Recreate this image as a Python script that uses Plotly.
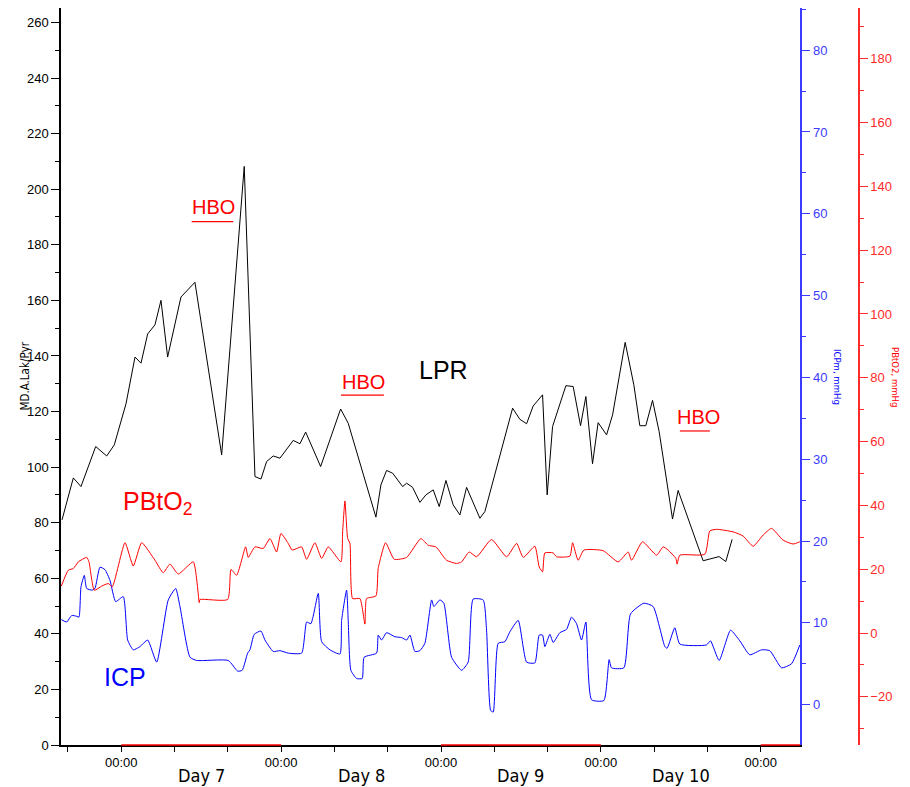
import plotly.graph_objects as go

# ---------------- data (time in hours from Day 7 00:00) ----------------
lpr_t = [-8.90, -7.20, -6.05, -3.84, -2.19, -1.05, 0.71, 2.06, 2.96, 3.96, 5.06, 5.96,
         6.96, 8.96, 11.06, 15.07, 18.46, 20.07, 20.97, 21.82, 22.81, 23.82, 25.82, 26.82,
         27.68, 29.93, 32.93, 34.07, 38.23, 38.98, 39.83, 40.74, 42.24, 42.84, 43.74, 44.83,
         45.73, 46.83, 47.73, 48.74, 49.83, 50.84, 51.84, 53.84, 54.59, 58.75, 59.84, 60.85,
         61.84, 63.25, 63.94, 64.75, 66.75, 67.84, 68.95, 69.75, 70.75, 71.59, 72.86, 73.76,
         75.65, 76.95, 77.85, 78.75, 79.76, 80.75, 82.76, 83.60, 87.35, 89.75, 90.76, 91.71]
lpr_v = [81, 96.1, 93, 107.4, 104, 108, 122.8, 139.6, 137.4, 147.9, 151.2, 160,
         139.6, 161.2, 166.5, 104.4, 208.2, 96.6, 95.7, 102, 104, 103.2, 109.6, 108.4,
         112.6, 100.2, 120.9, 115.8, 82, 93.6, 98.8, 97.8, 93, 94.2, 92.7, 87.3,
         90, 91.8, 85.8, 95.2, 86.4, 82.8, 92.7, 81.6, 84, 121.2, 117.2, 115.6,
         122, 126, 90, 114.6, 129.3, 129, 114.9, 125.4, 101.2, 116, 111.6, 118.8,
         144.9, 129.6, 114.9, 114.9, 124, 112.8, 81.3, 91.6, 66.3, 67.8, 66, 74]

pbto2_t = [-9.0, -7.95, -7.20, -6.45, -5.19, -4.85, -4.05, -2.94, -1.95, -1.35, 0.56, 1.80,
           3.06, 5.06, 6.30, 7.31, 8.56, 10.81, 11.71, 11.81, 15.97, 16.47, 17.32, 18.67,
           19.06, 20.07, 21.31, 22.32, 23.32, 23.97, 25.06, 25.66, 27.07, 27.82, 29.07, 30.08,
           31.07, 32.98, 33.23, 33.58, 33.99, 34.33, 34.73, 35.83, 36.58, 36.83, 38.23, 38.57,
           39.68, 40.98, 42.84, 44.98, 46.08, 47.23, 48.84, 50.34, 51.09, 52.23, 53.34, 55.59,
           57.85, 59.35, 60.34, 62.09, 62.74, 63.25, 63.59, 64.84, 65.35, 67.35, 67.75, 68.59,
           69.45, 72.35, 74.60, 76.10, 76.61, 78.26, 80.36, 81.35, 82.10, 83.26, 83.45, 83.86,
           87.61, 88.36, 89.37, 91.86, 93.36, 94.86, 96.36, 97.62, 99.36, 100.86, 101.87]
pbto2_v = [14.7, 19.7, 20.2, 22.3, 23.7, 22.3, 13.4, 14.7, 15.5, 14.5, 28.3, 21.0,
           28.3, 22.8, 18.9, 21.6, 18.5, 22.3, 9.5, 10.5, 10.5, 19.9, 18.1, 27.0,
           23.7, 27.0, 26.5, 29.6, 25.4, 31.2, 28.1, 26.0, 27.0, 23.1, 28.3, 23.4,
           27.0, 22.3, 31.7, 41.4, 29.6, 28.1, 10.8, 10.8, 2.8, 10.8, 11.6, 20.2,
           28.3, 23.1, 23.7, 29.6, 27.5, 27.0, 22.8, 21.8, 22.3, 25.4, 23.9, 29.3,
           23.9, 28.1, 23.7, 27.2, 20.7, 19.2, 25.1, 25.1, 23.9, 24.1, 28.3, 22.8,
           26.0, 25.8, 22.3, 25.4, 22.8, 28.6, 24.4, 27.0, 26.0, 23.4, 21.6, 24.4,
           24.7, 32.0, 32.5, 31.7, 30.4, 27.2, 30.7, 32.8, 29.1, 27.9, 28.6]

icp_t = [-9.0, -8.20, -7.44, -6.69, -6.35, -6.05, -5.55, -5.19, -4.35, -3.95, -3.20, -2.45,
         -1.70, -0.84, 0.30, 0.96, 1.80, 2.81, 3.96, 5.31, 7.05, 8.17, 8.81, 10.31,
         11.32, 16.06, 17.47, 18.16, 18.97, 19.32, 19.96, 20.97, 21.57, 22.81, 23.82, 25.07,
         27.08, 27.83, 28.47, 29.57, 30.08, 31.33, 32.83, 33.08, 33.83, 34.07, 34.47, 35.33,
         36.17, 36.47, 38.33, 38.58, 39.08, 39.83, 41.08, 42.08, 42.84, 43.34, 44.08, 44.83,
         45.58, 46.59, 46.93, 47.83, 48.43, 49.59, 51.09, 52.08, 52.83, 54.33, 54.84, 55.45,
         55.84, 56.59, 57.59, 58.34, 59.59, 60.85, 62.09, 62.74, 63.25, 63.59, 64.35, 64.84,
         65.85, 66.85, 67.60, 68.35, 69.10, 69.75, 70.60, 72.45, 73.24, 73.60, 75.45, 76.46,
         78.45, 79.85, 81.61, 81.95, 83.10, 83.86, 87.86, 88.46, 89.76, 91.47, 92.86, 94.36,
         96.12, 97.37, 99.13, 100.63, 101.87]
icp_v = [10.4, 10.1, 10.9, 10.8, 10.7, 14.4, 15.8, 14.2, 14.0, 14.2, 16.8, 16.5,
         15.2, 12.6, 13.2, 7.9, 6.7, 7.1, 7.9, 5.2, 12.8, 14.2, 12.0, 5.8,
         5.4, 5.4, 4.1, 4.2, 6.3, 6.7, 8.6, 9.0, 7.9, 6.5, 6.6, 6.3,
         6.3, 10.1, 9.9, 13.6, 7.7, 6.7, 6.2, 10.3, 14.0, 10.3, 4.2, 3.2,
         3.2, 5.8, 6.3, 8.5, 7.9, 8.8, 8.3, 8.2, 7.9, 8.5, 6.5, 6.6,
         7.5, 12.8, 12.0, 12.8, 12.4, 5.8, 4.2, 5.2, 12.9, 12.8, 9.1, -0.7,
         -0.9, 7.5, 7.7, 8.9, 10.3, 5.2, 5.1, 8.5, 8.5, 7.1, 8.6, 7.6,
         8.8, 9.2, 10.7, 9.9, 7.9, 10.1, 0.6, 0.5, 5.5, 4.5, 4.5, 11.1,
         12.4, 12.0, 7.1, 6.9, 9.4, 7.4, 7.3, 7.8, 5.4, 9.1, 7.8, 6.1,
         6.7, 6.6, 4.5, 5.0, 7.3]

hbo_start = [10.57, 32.98, 83.86]
hbo_end = [16.81, 39.43, 88.36]
hbo_line_v = [188.3, 125.9, 113.0]
hbo_label_t = [13.78, 36.40, 86.60]
hbo_label_v = [193.7, 130.7, 118.1]

midnights = [0, 24, 48, 72, 96]
midnight_labels = ["00:00"] * 5
day_centers = [12, 36, 60, 84]
day_names = ["Day 7", "Day 8", "Day 9", "Day 10"]
red_day_starts = [0, 48, 96]

X_RANGE = [-9.05, 101.95]

FONT = "Liberation Sans, Arial, sans-serif"
NARROW = "Liberation Sans Narrow, Arial Narrow, DejaVu Sans Condensed, sans-serif"
RED = "#ff0000"
BLUE = "#0000ff"
BLUE_AX = "#3b3bff"
RED_AX = "#ff2a2a"

fig = go.Figure()
fig.add_trace(go.Scatter(x=lpr_t, y=lpr_v, mode="lines", line=dict(color="black", width=1),
                         yaxis="y", name="LPR"))
fig.add_trace(go.Scatter(x=pbto2_t, y=pbto2_v, mode="lines",
                         line=dict(color=RED, width=1, shape="spline", smoothing=0.5),
                         yaxis="y3", name="PBtO2"))
fig.add_trace(go.Scatter(x=icp_t, y=icp_v, mode="lines",
                         line=dict(color=BLUE, width=1, shape="spline", smoothing=0.5),
                         yaxis="y2", name="ICP"))

shapes = []
for s, e, v in zip(hbo_start, hbo_end, hbo_line_v):
    shapes.append(dict(type="line", xref="x", yref="y", x0=s, x1=e, y0=v, y1=v,
                       line=dict(color=RED, width=1.2)))
for d in red_day_starts:
    shapes.append(dict(type="line", xref="x", yref="paper", x0=d, x1=min(d + 24, X_RANGE[1]),
                       y0=0, y1=0, line=dict(color=RED, width=1.5), layer="above"))

annotations = []
for t, v in zip(hbo_label_t, hbo_label_v):
    annotations.append(dict(x=t, y=v, xref="x", yref="y", text="HBO", showarrow=False,
                            font=dict(family=FONT, size=20, color=RED)))
annotations.append(dict(x=48.3, y=134.9, xref="x", yref="y", text="LPR", showarrow=False,
                        font=dict(family=FONT, size=25, color="black")))
annotations.append(dict(x=5.43, y=87.2, xref="x", yref="y", text="PBtO<sub>2</sub>", showarrow=False,
                        font=dict(family=FONT, size=25, color=RED)))
annotations.append(dict(x=0.51, y=24.4, xref="x", yref="y", text="ICP", showarrow=False,
                        font=dict(family=FONT, size=25, color=BLUE)))
for t, name in zip(day_centers, day_names):
    annotations.append(dict(x=t, y=0, xref="x", yref="paper", yanchor="middle", yshift=-30,
                            text=name, showarrow=False,
                            font=dict(family=NARROW, size=18, color="black")))
annotations.append(dict(x=0, y=0.5, xref="paper", yref="paper", xshift=-46, textangle=-90,
                        text="MD.A.Lak/Pyr", showarrow=False,
                        font=dict(family=NARROW, size=11.5, color="black")))
annotations.append(dict(x=0.9825, y=0.5, xref="paper", yref="paper", textangle=90,
                        text="ICPm, mmHg", showarrow=False,
                        font=dict(family=NARROW, size=9.5, color=BLUE)))
annotations.append(dict(x=1, y=0.5, xref="paper", yref="paper", xshift=44, textangle=90,
                        text="PBtO2, mmHg", showarrow=False,
                        font=dict(family=NARROW, size=9.5, color=RED)))

# the page body has an 8px margin; size the figure to fit inside the 910x787 window
fig.update_layout(
    width=902, height=779,
    margin=dict(l=53, r=51, t=0, b=42),
    paper_bgcolor="white", plot_bgcolor="white",
    showlegend=False,
    shapes=shapes,
    annotations=annotations,
    xaxis=dict(domain=[0, 0.9265], range=X_RANGE, tickmode="array", tickvals=midnights,
               ticktext=midnight_labels, ticks="outside", ticklen=5, tickcolor="black",
               minor=dict(tick0=0, dtick=8, ticks="outside", ticklen=5, tickcolor="black"),
               showline=True, linecolor="black", linewidth=1.5, showgrid=False, zeroline=False,
               tickfont=dict(family=FONT, size=13, color="black")),
    yaxis=dict(range=[0, 265.2], tick0=0, dtick=20, ticks="outside", ticklen=8,
               tickcolor="black", minor=dict(dtick=10, ticks="outside", ticklen=4, tickcolor="black"),
               showline=True, linecolor="black", linewidth=1.5, showgrid=False, zeroline=False,
               tickfont=dict(family=FONT, size=13, color="black")),
    yaxis2=dict(overlaying="y", side="right", anchor="x", range=[-4.93, 85.15], tick0=0, dtick=10,
                ticks="outside", ticklen=8, tickcolor=BLUE_AX,
                minor=dict(dtick=5, ticks="outside", ticklen=4, tickcolor=BLUE_AX),
                showline=True, linecolor=BLUE_AX, linewidth=2, showgrid=False, zeroline=False,
                tickfont=dict(family=FONT, size=13, color=BLUE_AX)),
    yaxis3=dict(overlaying="y", side="right", anchor="free", position=1.0, range=[-35.1, 195.9],
                tick0=0, dtick=20, ticks="outside", ticklen=8, tickcolor=RED_AX,
                minor=dict(dtick=10, ticks="outside", ticklen=4, tickcolor=RED_AX),
                showline=True, linecolor=RED_AX, linewidth=1.5, showgrid=False, zeroline=False,
                tickfont=dict(family=FONT, size=13, color=RED_AX)),
)

fig.write_html("out.html")
